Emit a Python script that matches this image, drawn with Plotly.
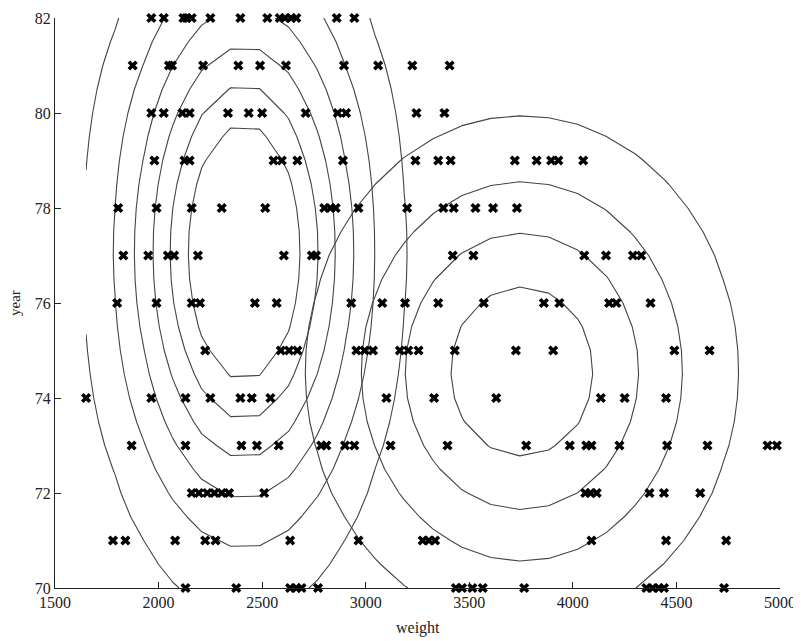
import numpy as np
import plotly.graph_objects as go

# weights of the cars for each model year
w70 = [2130, 2375, 2635, 2665, 2690, 2770, 3435, 3465, 3515, 3565, 3765, 4355, 4385, 4415, 4440, 4730]
w71 = [1780, 1840, 2080, 2225, 2275, 2635, 2965, 3275, 3305, 3335, 4090, 4450, 4740]
w72 = [2160, 2195, 2235, 2270, 2305, 2340, 2510, 4060, 4085, 4115, 4370, 4440, 4615]
w73 = [1870, 2130, 2400, 2475, 2580, 2785, 2810, 2900, 2945, 3120, 3395, 3775, 3985, 4065, 4090,
       4225, 4455, 4650, 4940, 4985]
w74 = [1650, 1965, 2130, 2250, 2395, 2450, 2540, 3100, 3330, 3630, 4135, 4250, 4450]
w75 = [2225, 2590, 2630, 2670, 2955, 2995, 3035, 3165, 3205, 3255, 3430, 3725, 3905, 4490, 4660]
w76 = [1800, 1990, 2160, 2200, 2465, 2570, 2930, 3080, 3190, 3350, 3570, 3860, 3935, 4175, 4210, 4375]
w77 = [1830, 1950, 2045, 2075, 2190, 2605, 2740, 2760, 3420, 3520, 4055, 4160, 4290, 4330]
w78 = [1805, 1990, 2160, 2305, 2515, 2800, 2830, 2855, 2965, 3200, 3375, 3425, 3530, 3615, 3730]
w79 = [1980, 2125, 2150, 2555, 2595, 2670, 2890, 3240, 3350, 3410, 3720, 3825, 3895, 3930, 4050]
w80 = [1965, 2025, 2115, 2150, 2335, 2435, 2500, 2710, 2865, 2905, 3245, 3380]
w81 = [1875, 2050, 2065, 2215, 2385, 2490, 2615, 2895, 3060, 3225, 3405]
w82 = [1965, 2025, 2120, 2135, 2160, 2250, 2395, 2525, 2585, 2610, 2640, 2665, 2860, 2945]

years = [70, 71, 72, 73, 74, 75, 76, 77, 78, 79, 80, 81, 82]
rows = [w70, w71, w72, w73, w74, w75, w76, w77, w78, w79, w80, w81, w82]

# Gaussian components (mean weight, mean year, sd weight, sd year)
comp1_mean = [2413, 77.07]
comp1_sd = [375, 3.7]
comp1_levels = [0.113, 0.897, 0.1307]   # start, end, step (fraction of peak)
comp2_mean = [3754, 74.56]
comp2_sd = [581, 3.0]
comp2_levels = [0.201, 0.837, 0.212]

x_ticks = [1500, 2000, 2500, 3000, 3500, 4000, 4500, 5000]
y_ticks = [70, 72, 74, 76, 78, 80, 82]

xs, ys = [], []
for yr, ws in zip(years, rows):
    xs.extend(ws)
    ys.extend([yr] * len(ws))

xg = np.linspace(1650, 5000, 25)
yg = np.linspace(70, 82, 25)
XX, YY = np.meshgrid(xg, yg)


def gauss(mean, sd):
    return np.exp(-0.5 * (((XX - mean[0]) / sd[0]) ** 2 + ((YY - mean[1]) / sd[1]) ** 2))


fig = go.Figure()
for mean, sd, lv in [(comp1_mean, comp1_sd, comp1_levels), (comp2_mean, comp2_sd, comp2_levels)]:
    fig.add_trace(go.Contour(
        x=xg, y=yg, z=gauss(mean, sd),
        contours=dict(coloring="none", start=lv[0], end=lv[1] + 1e-6, size=lv[2], showlabels=False),
        line=dict(color="#444444", width=1.1, smoothing=0),
        showscale=False, hoverinfo="skip",
    ))

fig.add_trace(go.Scatter(
    x=xs, y=ys, mode="markers",
    marker=dict(symbol="x", size=9, color="black", line=dict(width=0)),
    cliponaxis=False, showlegend=False,
))

font = dict(family="Liberation Serif", size=16, color="#222")
fig.update_layout(
    width=793, height=633,
    margin=dict(l=47, r=21, t=10, b=53),
    paper_bgcolor="white", plot_bgcolor="white",
    showlegend=False,
    font=font,
    annotations=[
        dict(text="weight", xref="paper", yref="paper", x=0.5, y=0, yshift=-40,
             xanchor="center", yanchor="middle", showarrow=False, font=font),
        dict(text="year", xref="paper", yref="paper", x=0, y=0.5, xshift=-40,
             xanchor="center", yanchor="middle", textangle=-90, showarrow=False,
             font=dict(family="Liberation Serif", size=15, color="#222")),
    ],
)
fig.update_xaxes(
    range=[1500, 5000], tickvals=x_ticks, ticks="inside", ticklen=6, tickcolor="#222",
    showline=True, linecolor="#222", linewidth=1.2, showgrid=False, zeroline=False,
    tickfont=font, automargin=False,
)
fig.update_yaxes(
    range=[70, 82], tickvals=y_ticks, ticks="inside", ticklen=6, tickcolor="#222",
    showline=True, linecolor="#222", linewidth=1.2, showgrid=False, zeroline=False,
    tickfont=font, automargin=False,
)

fig.write_html("out.html")
